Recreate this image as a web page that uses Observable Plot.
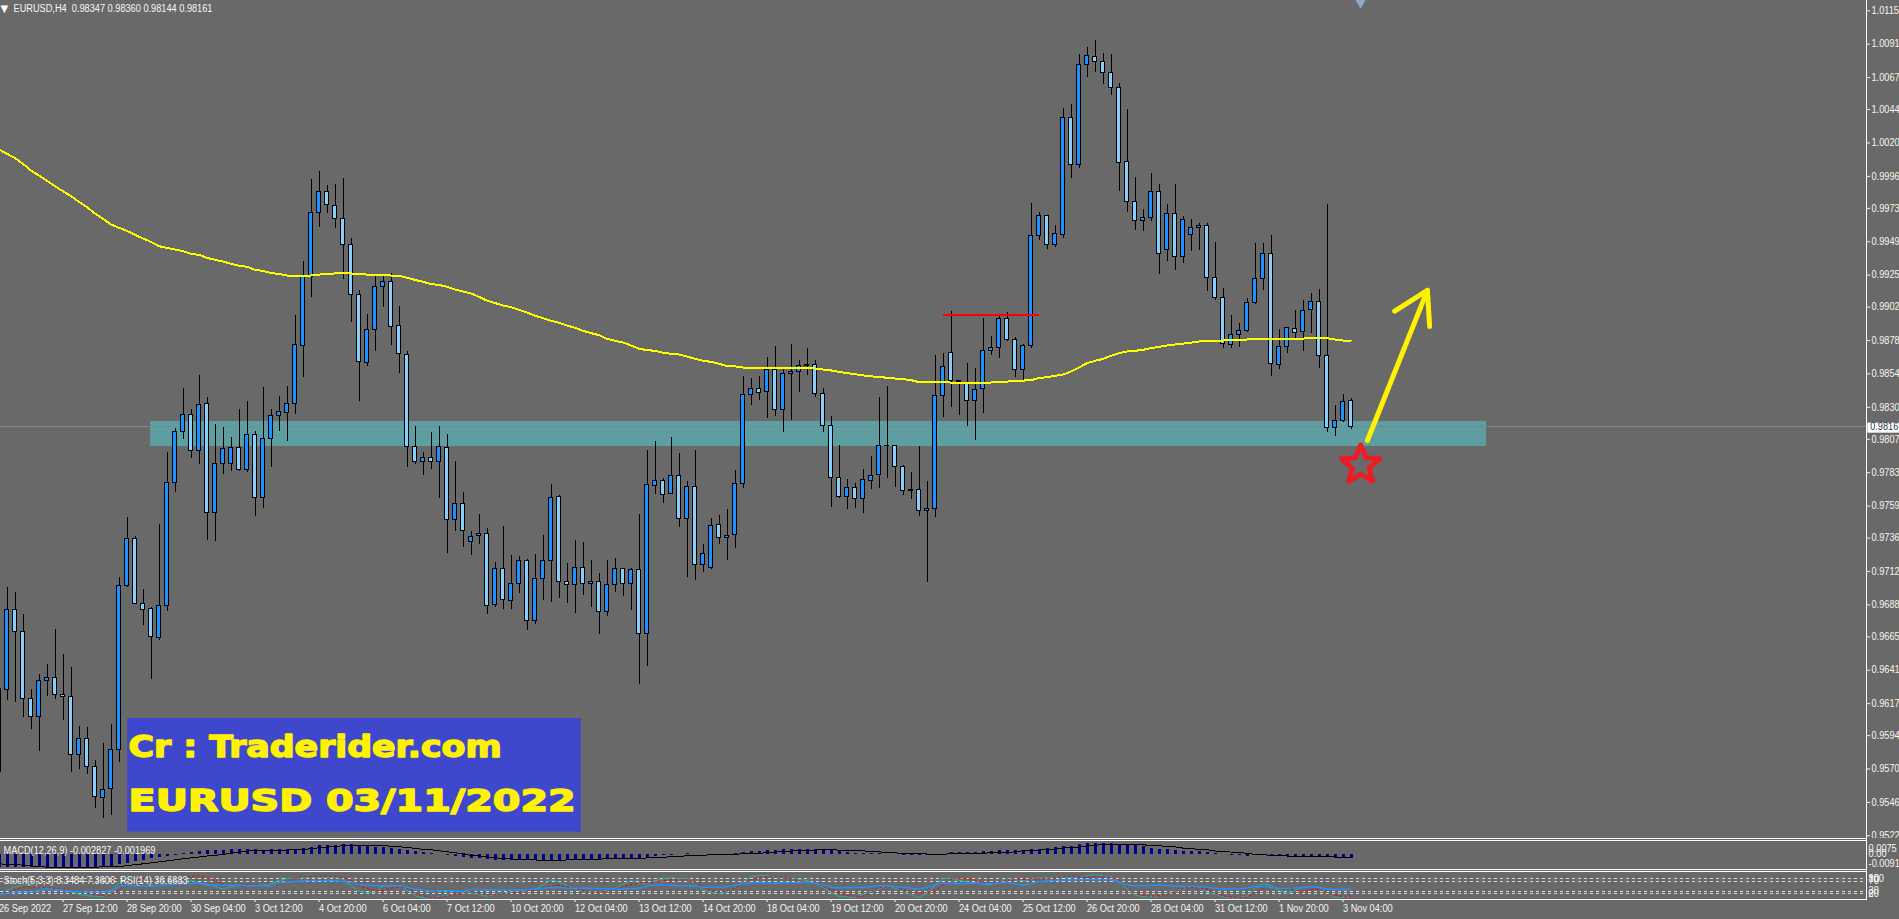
<!DOCTYPE html>
<html>
<head>
<meta charset="utf-8">
<script src="https://cdn.jsdelivr.net/npm/d3@7"></script>
<script src="https://cdn.jsdelivr.net/npm/@observablehq/plot@0.6"></script>
<style>
html,body{margin:0;padding:0;background:#696969;overflow:hidden}
#chart{position:relative;width:1899px;height:919px;overflow:hidden;background:#696969}
#chart svg{position:absolute;left:0;background:transparent;max-width:none}
.ln{position:absolute;background:#fff}
</style>
</head>
<body>
<div id="chart"></div>
<script>
// EURUSD H4 prices in points (1 point = 0.00001), one value per bar, oldest first
const opens = [95677,96269,96844,96686,96204,96075,96334,96355,96233,96219,
95802,95917,95715,95493,95557,95838,97016,97354,96887,96851,
96643,96873,97757,98124,98246,97985,98325,97539,97894,97894,
98009,97850,98102,97649,98073,98239,98260,98325,98742,99238,
99698,99849,99748,99655,99468,99108,98620,98857,99166,99202,
98885,98677,98015,97908,97932,97906,98009,97491,97606,97333,
97376,97391,96880,97139,96909,97031,97197,96765,97067,97197,
97657,97046,97024,97146,97031,97046,96830,97024,97139,97031,
97132,96672,97736,97772,97678,97808,97499,97729,97168,97146,
97455,97362,97384,97750,98390,98433,98412,98570,98282,98541,
98555,98598,98605,98397,98167,97793,97657,97721,97642,97772,
97815,98023,98023,97872,97700,97707,97556,97571,98383,98691,
98490,98468,98346,98432,98706,98727,98936,98785,98569,98742,
99532,99676,99467,99539,100380,100043,100761,100819,100783,100704,
100596,100064,99777,99640,99662,99848,99432,99690,99381,99539,
99590,99604,99230,99087,98749,98821,98849,99051,99223,99403,
98605,98734,98864,98842,99000,99058,98670,98152,98202,98347];
const highs = [96276,97002,96966,96808,96269,96377,96449,96700,96520,96427,
96003,95996,95759,95881,96017,97074,97505,97369,96988,96863,
97455,97972,98145,98433,98282,98526,98368,98174,98152,98080,
98282,98339,98124,98440,98282,98375,98447,98957,99346,99935,
99992,99892,99899,99942,99511,99137,98965,99245,99245,99259,
99022,98699,98160,97975,98116,98160,98102,97910,97687,97405,
97527,97427,97182,97441,97233,97225,97204,97240,97376,97743,
97664,97175,97340,97326,97197,97103,97197,97211,97139,97139,
97527,97987,98052,97786,98081,97966,97765,97987,97312,97499,
97520,97563,97844,98519,98505,98519,98656,98735,98577,98749,
98634,98721,98634,98433,98232,98023,97779,97750,97851,97944,
98368,98447,98023,97879,97829,98016,97765,98670,98685,98986,
98492,98612,98576,98936,98806,98960,98979,98799,98749,99762,
99698,99676,99604,100445,100474,100833,100884,100934,100840,100833,
100625,100438,99949,99719,99978,99899,99755,99899,99669,99647,
99618,99618,99482,99151,98957,98900,99079,99475,99475,99532,
98856,98871,98993,99065,99115,99144,99755,98310,98392,98360];
const lows = [95677,96192,96180,96072,95986,95828,96221,96202,96051,95677,
95696,95663,95418,95346,95366,95749,97002,96887,96731,96346,
96626,96832,97685,98071,97932,97889,97343,97335,97817,97838,
97841,97834,97515,97573,97870,98128,98057,98251,98517,99092,
99595,99695,99588,99221,98912,98344,98596,98703,99017,98747,
98545,97870,97886,97812,97855,97647,97251,97409,97294,97237,
97312,96813,96864,96849,96849,96962,96698,96742,96914,96900,
96928,96892,96821,96950,96864,96670,96799,96971,96943,96842,
96310,96440,97674,97611,97671,97439,97079,97058,97115,97132,
97317,97199,97288,97719,98316,98352,98222,98237,98122,98208,
98409,98527,98368,98122,97582,97642,97568,97575,97539,97712,
97719,97791,97726,97669,97640,97518,97043,97511,98229,98301,
98243,98164,98064,98258,98674,98653,98770,98516,98480,98725,
99501,99432,99446,99511,99947,100014,100668,100704,100618,100539,
99848,99702,99573,99566,99638,99257,99348,99285,99336,99422,
99427,99134,99070,98725,98725,98732,98840,99036,99142,98523,
98574,98689,98785,98703,98833,98581,98121,98092,98193,98144];
const closes = [96276,96844,96686,96204,96075,96334,96355,96233,96219,95802,
95917,95715,95500,95550,95838,97016,97354,96887,96844,96650,
96873,97757,98124,98246,97985,98318,97539,97894,98001,98009,
97850,98102,97649,98073,98239,98267,98325,98749,99238,99698,
99849,99755,99655,99468,99108,98627,98857,99166,99202,98878,
98684,98013,97908,97932,97908,98015,97491,97606,97412,97366,
97391,96873,97139,96916,97031,97197,96765,97067,97197,97650,
97046,97024,97146,97031,97046,96830,97024,97139,97031,97132,
96672,97743,97772,97671,97808,97499,97729,97168,97247,97448,
97362,97376,97750,98390,98433,98404,98570,98282,98541,98555,
98598,98605,98397,98167,97793,97657,97721,97642,97779,97808,
98023,98021,97872,97700,97702,97556,97571,98383,98591,98490,
98480,98346,98425,98706,98727,98936,98785,98569,98742,99532,
99676,99467,99547,100380,100043,100761,100826,100783,100704,100596,
100057,99777,99640,99662,99848,99403,99690,99381,99647,99590,
99604,99230,99087,98756,98821,98849,99051,99223,99403,98612,
98734,98871,98835,98993,99058,98670,98152,98202,98339,98161];
const movingAverage = [100153,100122,100091,100050,100002,99966,99928,99889,99853,99818,
99777,99738,99693,99655,99614,99590,99568,99540,99513,99489,
99458,99446,99434,99422,99403,99396,99374,99360,99348,99331,
99317,99310,99288,99281,99264,99259,99247,99247,99247,99247,
99254,99259,99262,99262,99262,99257,99254,99254,99254,99247,
99245,99231,99216,99202,99185,99180,99166,99147,99132,99118,
99094,99067,99049,99032,99020,99001,98982,98958,98941,98922,
98907,98888,98871,98850,98833,98819,98792,98778,98766,98745,
98721,98711,98706,98692,98685,98680,98665,98649,98634,98627,
98613,98596,98594,98586,98586,98586,98586,98586,98586,98586,
98586,98584,98579,98572,98565,98555,98546,98538,98529,98522,
98519,98512,98507,98503,98495,98481,98481,98481,98481,98478,
98478,98478,98478,98478,98478,98483,98485,98490,98492,98495,
98511,98516,98526,98535,98557,98586,98617,98634,98648,98670,
98689,98701,98706,98713,98725,98734,98744,98751,98758,98765,
98773,98780,98780,98780,98785,98787,98787,98792,98794,98794,
98794,98794,98794,98794,98801,98801,98797,98787,98780,98780];
// MACD in millionths
const macdMain = [-7917,-7917,-7917,-7917,-7917,-8112,-8112,-8112,-8112,-8112,
-8112,-7917,-7722,-7722,-7332,-6162,-5382,-4407,-3627,-2847,
-2262,-1482,-702,663,1053,1833,2223,2418,2418,2613,
2808,2613,2613,2418,2613,2613,2808,3003,3393,4173,
4953,5148,5343,5538,5733,4953,4368,3978,3978,3588,
3003,2418,1833,1053,273,-312,-702,-1482,-2262,-2847,
-2847,-3237,-3627,-3822,-4017,-4017,-4017,-4017,-4017,-4017,
-4017,-3237,-3237,-3237,-3237,-3237,-2847,-2652,-2457,-2457,
-2457,-1872,-1287,-897,-507,-312,468,78,-117,78,
78,78,663,858,1638,1638,2223,2223,2613,2808,
2808,2808,2808,2808,2418,1833,1053,273,273,273,
273,78,-117,-507,-507,-507,-1092,-507,-702,858,
858,858,1248,1443,1443,2028,2223,2223,2223,2808,
3003,3393,3978,4368,4563,5538,6123,6318,6318,6318,
5733,5148,4953,4563,3588,2808,2613,2028,1833,1833,
1443,858,273,-312,-702,-1092,-1677,-1092,-1092,-1677,
-1677,-1677,-1677,-1677,-1677,-1872,-2262,-2847,-2847,-2827];
const macdSignal = [-5772,-5967,-6162,-6552,-6942,-7332,-7722,-7917,-7917,-7917,
-7917,-7917,-7722,-7527,-7332,-7137,-6942,-6162,-5772,-5187,
-4602,-4017,-3432,-2652,-2262,-1677,-1092,-702,-117,468,
1248,1833,2028,2028,2028,2223,2418,2613,2808,3198,
3783,4173,4563,4953,4953,4953,4953,4953,4953,4758,
4368,3978,3393,2808,2613,2028,1443,858,273,
-702,-897,-1677,-2067,-2652,-2847,-3042,-3432,-3432,-3627,
-4017,-4017,-3432,-3432,-3432,-3432,-3042,-2652,-2457,-2457,
-2457,-2457,-2262,-2067,-1872,-1482,-1482,-897,-702,-702,
-312,-312,-312,-117,273,273,468,858,1248,1443,
1833,2223,2418,2418,2613,2613,2418,2223,2028,2028,
1443,1443,858,858,273,273,273,78,78,
-117,273,273,273,273,468,858,858,858,1443,
2028,2028,2418,2613,3003,3588,4173,4173,4953,5343,
5538,5538,5538,5538,5538,5538,5148,4953,4563,4368,
3588,3588,2613,2613,1833,1638,1248,1053,468,-117,
-312,-702,-1092,-1092,-1287,-1287,-1287,-1482,-1677,-1677,
-1872,-1969];
const stochMain = [17,33,46,54,55,45,41,38,34,29,
18,12,10,9,20,66,79,81,80,79,
85,92,87,81,72,62,54,48,39,48,
52,52,52,54,59,72,80,81,83,84,
85,85,85,77,52,30,23,26,50,52,
52,33,12,5,2,9,14,18,25,
23,17,10,17,23,27,33,35,38,55,
75,66,52,39,29,27,26,34,42,56,
72,60,58,71,79,83,81,79,58,35,
26,20,29,45,67,89,91,92,88,81,
79,77,72,60,46,25,9,8,6,17,
26,39,52,42,30,17,4,23,52,
81,81,72,67,62,58,55,67,79,75,
72,77,83,84,85,85,85,88,91,95,
91,87,68,39,16,8,8,12,20,30,
39,48,47,26,18,8,2,6,10,42,
60,52,33,21,33,46,46,46,26,6,
8,8.35];
const stochSignal = [23,25,35,47,48,46,43,41,38,34,
29,23,17,13,13,37,63,72,80,83,
85,85,85,88,89,91,83,71,58,54,
54,55,54,52,55,59,68,81,87,88,
89,89,89,83,72,52,42,31,34,42,
47,43,23,12,5,6,12,18,22,
29,22,16,17,20,23,27,33,35,43,
51,55,48,41,31,26,26,30,39,48,
56,62,64,66,71,75,75,75,62,47,
33,25,33,43,60,74,83,89,89,84,
79,72,66,59,50,37,25,12,10,10,
26,43,48,46,34,26,21,25,30,
56,79,83,79,74,66,59,67,75,75,
76,77,79,81,83,87,89,88,85,87,
89,85,74,50,23,14,10,13,16,26,
41,45,43,39,23,12,6,6,6,22,
42,46,46,42,34,27,37,39,26,13,
9,7.36];
const rsi = [16,23,26,26,26,33,39,35,33,31,
29,26,26,26,33,48,56,52,51,50,
52,56,58,59,60,62,58,54,54,55,
55,52,52,52,52,63,66,68,70,72,
72,71,71,68,64,56,55,52,52,52,
52,46,38,34,30,31,33,31,30,
37,37,35,35,35,35,35,37,38,42,
46,45,42,42,42,42,41,39,39,39,
41,42,50,55,55,54,52,52,50,46,
46,46,48,55,59,63,63,62,60,63,
63,64,64,60,54,46,43,45,45,46,
48,52,52,48,46,42,39,46,55,
62,60,59,60,62,60,59,62,66,59,
55,59,67,70,72,74,75,75,76,76,
75,75,66,55,52,52,54,55,52,50,
50,50,48,46,42,39,39,39,43,50,
48,46,43,42,43,45,46,46,39,37,
38,36.67];

const priceTicks = [1.0115,1.0091,1.0067,1.0044,1.0020,0.9996,0.9973,0.9949,0.9925,0.9902,0.9878,0.9854,0.9830,0.9807,0.9783,0.9759,0.9736,0.9712,0.9688,0.9665,0.9641,0.9617,0.9594,0.9570,0.9546,0.9522];
const timeBars = [-1,7,15,23,31,39,47,55,63,71,79,87,95,103,111,119,127,135,143,151,159,167];
const timeLabels = ["26 Sep 2022","27 Sep 12:00","28 Sep 20:00","30 Sep 04:00","3 Oct 12:00","4 Oct 20:00","6 Oct 04:00","7 Oct 12:00","10 Oct 20:00","12 Oct 04:00","13 Oct 12:00","14 Oct 20:00","18 Oct 04:00","19 Oct 12:00","20 Oct 20:00","24 Oct 04:00","25 Oct 12:00","26 Oct 20:00","28 Oct 04:00","31 Oct 12:00","1 Nov 20:00","3 Nov 04:00"];
const stochLevels = [80,70,30,20];
const stochLabels = [100,80,70,30,20,0];
const macdLabels = ["0.0075","0.00","-0.0091"];
const macdLabelValues = [0.0075,0,-0.0091];

const headerText = "EURUSD,H4  0.98347 0.98360 0.98144 0.98161";
const macdText = "MACD(12,26,9) -0.002827 -0.001969";
const stochText = "Stoch(5,3,3) 8.3484 7.3606  RSI(14) 36.6683";
const bannerLines = ["Cr : Traderider.com","EURUSD 03/11/2022"];

// Hand-drawn annotations, in bar index / price
const supportZone = {x1:17.96, x2:184.95, y1:0.98198, y2:0.98018};
const resistance = {x1:117, x2:129.1, y:0.98967};
const lastPrice = 0.98161;
const arrowShaft = [[170.05,0.98061],[177.55,0.99140]];
const arrowHead = [[173.46,0.98991],[177.55,0.99140],[177.83,0.98881]];
const star = [[169.2,0.98029],[169.87,0.97938],[171.58,0.97930],[170.28,0.97865],[170.68,0.97769],[169.2,0.97820],[167.73,0.97769],[168.13,0.97865],[166.83,0.97930],[168.55,0.97938],[169.2,0.98029]];
const banner = {x1:15.08, x2:71.8, y1:0.96063, y2:0.95246};
const bannerY = [0.95783,0.95395];

const F = '"Liberation Sans",Arial,sans-serif';
const FS = 10;
const TXT = "#f6f6f6";
const xScale = {type:"linear", domain:[0,168], range:[6.5,1350.5], axis:null};
const bars = opens.map((o,i)=>({
  k:i-1, o:o/1e5, h:highs[i]/1e5, l:lows[i]/1e5, c:closes[i]/1e5, ma:movingAverage[i]/1e5,
  m:macdMain[i]/1e6, s:macdSignal[i]/1e6, st:stochMain[i], sg:stochSignal[i], r:rsi[i]
}));

const main = Plot.plot({
  width:1899, height:838, margin:0, marginRight:33,
  x:xScale, y:{domain:[1.0115,0.9522], range:[10.3,835.3], axis:null},
  marks:[
    Plot.rect([supportZone],{x1:"x1",x2:"x2",y1:"y1",y2:"y2",fill:"#5f9ea0"}),
    Plot.ruleY([lastPrice],{stroke:"#778899",strokeWidth:1,shapeRendering:"crispEdges"}),
    Plot.ruleX(bars,{x:"k",y1:"l",y2:"h",stroke:"#000",strokeWidth:1,shapeRendering:"crispEdges"}),
    Plot.rect(bars,{x1:d=>d.k-0.25,x2:d=>d.k+0.25,y1:"o",y2:"c",fill:d=>d.c>=d.o?"#1e90ff":"#87cefa",stroke:"#000",strokeWidth:1,shapeRendering:"crispEdges"}),
    Plot.line(bars,{x:"k",y:"ma",stroke:"#ffff00",strokeWidth:2,shapeRendering:"crispEdges"}),
    Plot.ruleY([resistance],{x1:"x1",x2:"x2",y:"y",stroke:"#ff0000",strokeWidth:2,shapeRendering:"crispEdges"}),
    Plot.line(arrowShaft,{x:"0",y:"1",stroke:"#fff200",strokeWidth:5,strokeLinecap:"round"}),
    Plot.line(arrowHead,{x:"0",y:"1",stroke:"#fff200",strokeWidth:5,strokeLinecap:"round",strokeLinejoin:"round"}),
    Plot.line(star,{x:"0",y:"1",stroke:"#ed1c24",strokeWidth:5,strokeLinecap:"round",strokeLinejoin:"round"}),
    Plot.rect([banner],{x1:"x1",x2:"x2",y1:"y1",y2:"y2",fill:"#3f48cc"}),
    Plot.text(bannerLines,{x:15.2,y:(d,i)=>bannerY[i],text:d=>d,textAnchor:"start",lineAnchor:"bottom",fontFamily:"DejaVu Sans",fontWeight:"bold",fontSize:31,fill:"#fff200",stroke:"#fff200",strokeWidth:1.5}),
    Plot.text([headerText],{frameAnchor:"top-left",dx:13,dy:8,lineAnchor:"middle",textAnchor:"start",fontSize:FS,fontFamily:F,fill:TXT,text:d=>d}),
    Plot.text(["\u25BC"],{frameAnchor:"top-left",dx:0,dy:8,lineAnchor:"middle",textAnchor:"start",fontSize:10,fontFamily:"DejaVu Sans",fill:"#fff",text:d=>d}),
    Plot.dot([{k:169.2,y:1.01224}],{x:"k",y:"y",symbol:"diamond",r:5,fill:"#8fa9c4"}),
    Plot.axisY(priceTicks,{anchor:"right",tickSize:3,tickPadding:2,tickFormat:d=>d.toFixed(4),fontSize:FS,fontFamily:F,color:TXT,label:null}),
    Plot.rect([{}],{x1:232.6,x2:240,y1:0.98186,y2:0.98114,fill:"#fff"}),
    Plot.text([lastPrice],{x:232.9,y:lastPrice,text:d=>d.toFixed(4),textAnchor:"start",fontSize:FS,fontFamily:F,fill:"#2b3a4a"})
  ]
});
main.style.top = "0px";

const macd = Plot.plot({
  width:1899, height:33, margin:0, marginRight:33,
  x:xScale, y:{domain:[0.0075,-0.0091], range:[3,31], axis:null},
  marks:[
    Plot.ruleX(bars,{x:"k",y1:0,y2:"m",stroke:"#00008b",strokeWidth:3,shapeRendering:"crispEdges"}),
    Plot.line(bars,{x:"k",y:"s",stroke:"#000",strokeWidth:1,shapeRendering:"crispEdges"}),
    Plot.text([macdText],{frameAnchor:"top-left",dx:3,dy:12,lineAnchor:"middle",textAnchor:"start",fontSize:FS,fontFamily:F,fill:TXT,text:d=>d}),
    Plot.text([macdLabels[0]],{x:232.7,y:macdLabelValues[0],dy:7,text:d=>d,textAnchor:"start",fontSize:FS,fontFamily:F,fill:TXT}),
    Plot.text([macdLabels[1]],{x:232.7,y:macdLabelValues[1],text:d=>d,textAnchor:"start",fontSize:FS,fontFamily:F,fill:TXT}),
    Plot.text([macdLabels[2]],{x:232.7,y:macdLabelValues[2],dy:-6,text:d=>d,textAnchor:"start",fontSize:FS,fontFamily:F,fill:TXT})
  ]
});
macd.style.top = "838px";

const stoch = Plot.plot({
  width:1899, height:48, margin:0, marginRight:33, marginBottom:20,
  x:xScale, y:{domain:[100,0], range:[2,27.3], axis:null},
  marks:[
    Plot.ruleY(stochLevels,{stroke:"#d8d8d8",strokeWidth:1,strokeDasharray:"3,3",shapeRendering:"crispEdges"}),
    Plot.line(bars,{x:"k",y:"st",stroke:"#20b2aa",strokeWidth:1}),
    Plot.line(bars,{x:"k",y:"sg",stroke:"#ff0000",strokeWidth:1,strokeDasharray:"2,3"}),
    Plot.line(bars,{x:"k",y:"r",stroke:"#1e90ff",strokeWidth:1.5}),
    Plot.text([stochText],{frameAnchor:"top-left",dx:3,dy:9,lineAnchor:"middle",textAnchor:"start",fontSize:FS,fontFamily:F,fill:TXT,text:d=>d}),
    Plot.text(stochLabels.slice(1,5),{x:232.7,y:d=>d,text:d=>String(d),textAnchor:"start",fontSize:FS,fontFamily:F,fill:TXT}),
    Plot.text(stochLabels.slice(0,1),{x:232.7,y:d=>d,dy:5,text:d=>String(d),textAnchor:"start",fontSize:FS,fontFamily:F,fill:TXT}),
    Plot.text(stochLabels.slice(5),{x:232.7,y:d=>d,dy:-5,text:d=>String(d),textAnchor:"start",fontSize:FS,fontFamily:F,fill:TXT}),
    Plot.axisX(timeBars,{anchor:"bottom",tickSize:3,tickPadding:2,textAnchor:"start",tickFormat:k=>timeLabels[timeBars.indexOf(k)],fontSize:FS,fontFamily:F,color:TXT,label:null})
  ]
});
stoch.style.top = "871px";

const root = document.getElementById("chart");
root.append(main,macd,stoch);

// pane borders
const paneLines = [[0,838,1866,1],[0,840,1866,1],[0,869,1866,1],[0,871,1866,1],[0,899,1866,1],[1866,0,1,900]];
for (const [l,t,w,h] of paneLines){
  const e=document.createElement("div");e.className="ln";
  e.style.cssText=`left:${l}px;top:${t}px;width:${w}px;height:${h}px`;
  root.append(e);
}
// the reference's text is narrower than the installed fonts: condense it to the same width
root.querySelectorAll("text").forEach(t=>{
  const s=t.textContent, n=t.getComputedTextLength();
  if(s==="\u25BC") return;
  let len=n*0.92;
  if(s===bannerLines[0]) len=373;
  if(s===bannerLines[1]) len=447;
  t.setAttribute("textLength",len);
  t.setAttribute("lengthAdjust","spacingAndGlyphs");
});
</script>
</body>
</html>
